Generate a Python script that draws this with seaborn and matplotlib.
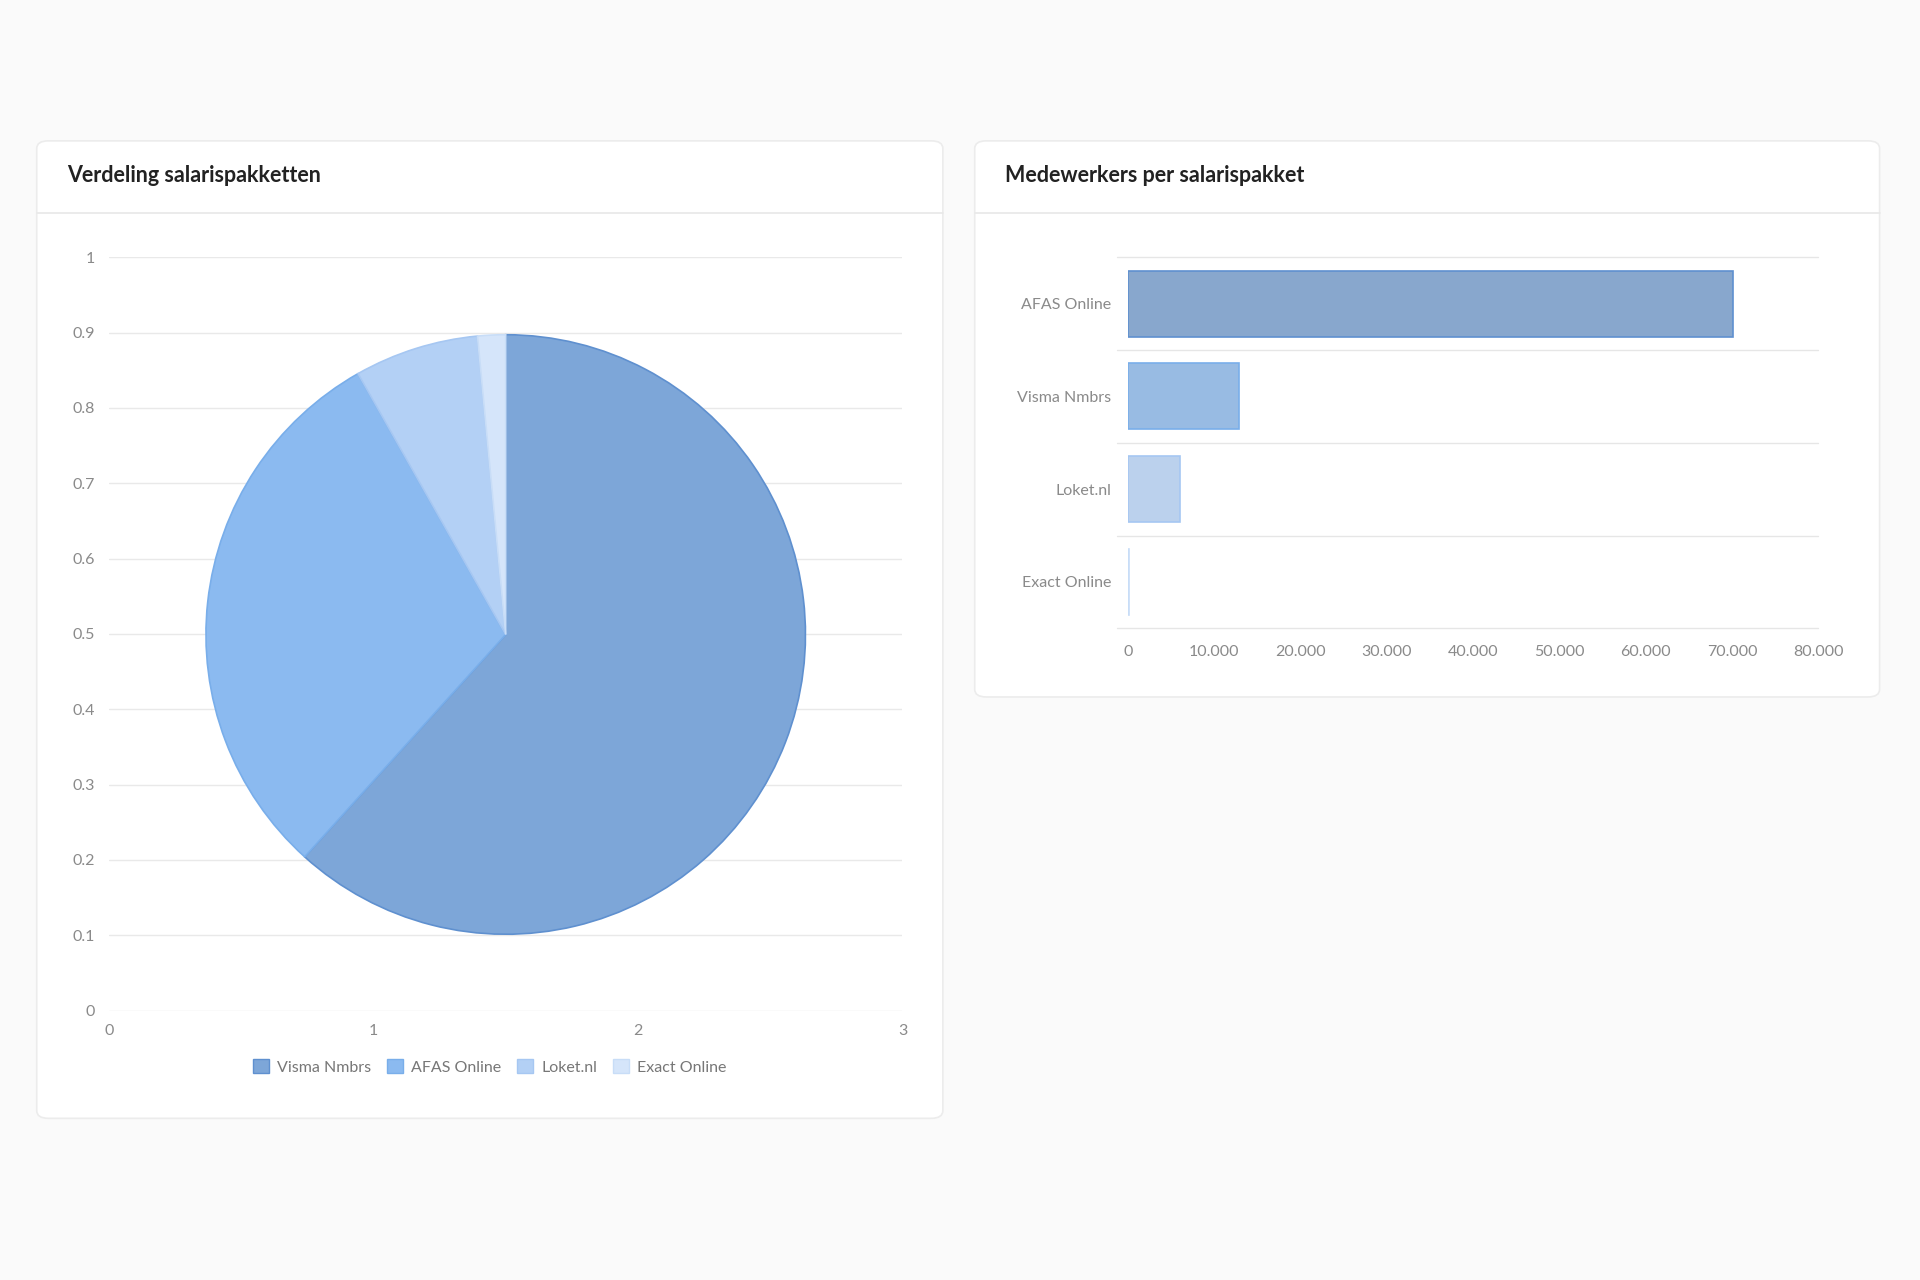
import matplotlib
matplotlib.use("Agg")
import matplotlib.pyplot as plt
import seaborn as sns
import pandas as pd
from matplotlib.patches import FancyBboxPatch, Patch

sns.set_theme(style="white")
plt.rcParams['font.family'] = ['Lato', 'DejaVu Sans']

pie_labels = ["Visma Nmbrs", "AFAS Online", "Loket.nl", "Exact Online"]
pie_values = [61.7, 30.1, 6.7, 1.5]
pie_colors = ["#7da6d8", "#8bbaf0", "#b3d0f5", "#d5e5fa"]
pie_edges = ["#5f90cf", "#79aeea", "#a6c7f2", "#c8ddf7"]

bar_labels = ["AFAS Online", "Visma Nmbrs", "Loket.nl", "Exact Online"]
bar_values = [70100, 12900, 6100, 150]
bar_ticks = [0, 10000, 20000, 30000, 40000, 50000, 60000, 70000, 80000]

W, H = 1568, 1045
fig = plt.figure(figsize=(19.2, 12.8), dpi=100, facecolor="#fafafa")

def fx(x): return x / W
def fy(y): return 1 - y / H

bg = fig.add_axes([0, 0, 1, 1], zorder=0)
bg.set_xlim(0, 1); bg.set_ylim(0, 1); bg.axis("off")

def card(x0, y0, x1, y1, title):
    p = FancyBboxPatch((fx(x0), fy(y1)), fx(x1 - x0), (y1 - y0) / H,
                       boxstyle="round,pad=0,rounding_size=0.006",
                       facecolor="white", edgecolor="#ececec", linewidth=1.2)
    bg.add_patch(p)
    bg.plot([fx(x0), fx(x1)], [fy(174), fy(174)], color="#e8e8e8", lw=1.2)
    bg.text(fx(x0 + 25), fy(143), title, fontsize=15.5, fontweight="bold",
            color="#222222", va="center", ha="left")

card(30, 115, 770, 913, "Verdeling salarispakketten")
card(796, 115, 1535, 569, "Medewerkers per salarispakket")

tick_kw = dict(colors="#8a8a8a", labelsize=11.5, length=0)

axl = fig.add_axes([fx(89), fy(825), fx(737 - 89), (825 - 210) / H], zorder=2)
axl.set_xlim(0, 3); axl.set_ylim(0, 1)
axl.set_xticks([0, 1, 2, 3])
axl.set_yticks([i / 10 for i in range(11)])
axl.set_yticklabels(["0"] + [f"0.{i}" for i in range(1, 10)] + ["1"])
axl.grid(axis="y", color="#e9e9e9", lw=1)
for s in axl.spines.values(): s.set_visible(False)
axl.tick_params(**tick_kw, pad=10)
axl.set_facecolor("none")

axp = fig.add_axes([fx(107), fy(824), fx(612), 612 / H], zorder=3)
wedges, _ = axp.pie(pie_values, colors=pie_colors, startangle=90, counterclock=False,
                    wedgeprops=dict(linewidth=1.2))
for w, e in zip(wedges, pie_edges):
    w.set_edgecolor(e)
axp.set_aspect("equal")
axp.axis("off")

handles = [Patch(facecolor=c, edgecolor=e, label=l) for c, e, l in zip(pie_colors, pie_edges, pie_labels)]
leg = bg.legend(handles=handles, loc="center", bbox_to_anchor=(fx(400), fy(871)), ncol=4,
                frameon=False, fontsize=11.5, labelcolor="#777777", handlelength=1.0,
                handleheight=1.0, columnspacing=1.0, handletextpad=0.5)

axb = fig.add_axes([fx(921), fy(513), fx(1485 - 921), (513 - 210) / H], zorder=2)
df = pd.DataFrame({"pakket": bar_labels, "medewerkers": bar_values})
sns.barplot(data=df, y="pakket", x="medewerkers", hue="pakket", palette=pie_colors,
            orient="h", width=0.71, ax=axb, legend=False, linewidth=1.2)
for p, e in zip(axb.patches, pie_edges):
    p.set_edgecolor(e)
axb.set_xlim(0, 80000)
axb.set_ylim(3.5, -0.5)
axb.set_xticks(bar_ticks)
axb.set_xticklabels([f"{v:,}".replace(",", ".") for v in bar_ticks])
axb.set_xlabel(""); axb.set_ylabel("")
for y in [-0.5, 0.5, 1.5, 2.5, 3.5]:
    axb.axhline(y, color="#e6e6e6", lw=1, xmin=-0.015, clip_on=False, zorder=0)
for s in axb.spines.values(): s.set_visible(False)
axb.tick_params(**tick_kw, pad=12)
axb.set_facecolor("none")

fig.savefig("out.png", dpi=100, facecolor=fig.get_facecolor())
